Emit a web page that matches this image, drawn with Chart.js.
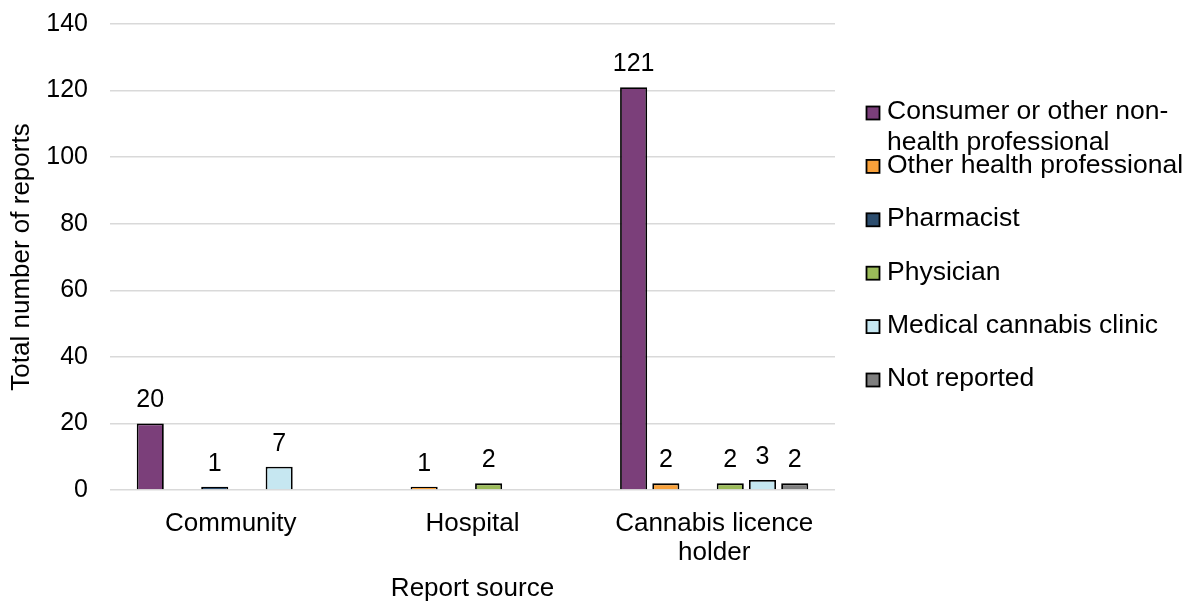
<!DOCTYPE html>
<html>
<head>
<meta charset="utf-8">
<title>Reports by source</title>
<script src="https://cdn.jsdelivr.net/npm/chart.js@4.4.0/dist/chart.umd.js"></script>
<style>
  html, body { margin: 0; padding: 0; background: #fff; }
  #wrap { width: 1185px; height: 601px; position: relative; }
</style>
</head>
<body>
<div id="wrap"><canvas id="chart"></canvas></div>
<script>
// data
const categories = ['Community', 'Hospital', ['Cannabis licence', 'holder']];
const seriesNames = [
  ['Consumer or other non-', 'health professional'],
  ['Other health professional'],
  ['Pharmacist'],
  ['Physician'],
  ['Medical cannabis clinic'],
  ['Not reported']
];
const consumer = [20, 0, 121];
const otherHealthPro = [0, 1, 2];
const pharmacist = [1, 0, 0];
const physician = [0, 2, 2];
const medicalClinic = [7, 0, 3];
const notReported = [0, 0, 2];
const yTicks = [0, 20, 40, 60, 80, 100, 120, 140];

const colors = ['#7b3f7a', '#f9a13a', '#2c4d6e', '#9bbb59', '#c6e7f1', '#7f7f7f'];
const allSeries = [consumer, otherHealthPro, pharmacist, physician, medicalClinic, notReported];

const FONT = 'Arial, "Liberation Sans", sans-serif';
Chart.defaults.font.family = FONT;
Chart.defaults.color = '#000';

// value labels above non-zero bars
const valueLabels = {
  id: 'valueLabels',
  afterDatasetsDraw(chart) {
    const ctx = chart.ctx;
    ctx.save();
    ctx.font = '25px ' + FONT;
    ctx.fillStyle = '#000';
    ctx.textAlign = 'center';
    ctx.textBaseline = 'alphabetic';
    chart.data.datasets.forEach((ds, i) => {
      chart.getDatasetMeta(i).data.forEach((bar, j) => {
        const v = ds.data[j];
        if (!v) return;
        ctx.fillText(String(v), bar.x, bar.y - 16);
      });
    });
    ctx.restore();
  }
};

// legend drawn at the right, like the original
const sideLegend = {
  id: 'sideLegend',
  afterDraw(chart) {
    const ctx = chart.ctx;
    ctx.save();
    ctx.font = '26.5px ' + FONT;
    ctx.textBaseline = 'middle';
    chart.data.datasets.forEach((ds, i) => {
      const cy = 113 + i * 53.4;
      ctx.fillStyle = ds.backgroundColor;
      ctx.fillRect(866.5, cy - 6.5, 13, 13);
      ctx.strokeStyle = '#000';
      ctx.lineWidth = 1.8;
      ctx.strokeRect(866.5, cy - 6.5, 13, 13);
      ctx.fillStyle = '#000';
      seriesNames[i].forEach((line, k) => {
        ctx.fillText(line, 887, cy - 1 + k * 31);
      });
    });
    ctx.restore();
  }
};

const datasets = allSeries.map((vals, i) => ({
  label: seriesNames[i].join(' '),
  data: vals,
  backgroundColor: colors[i],
  borderColor: '#000',
  borderWidth: c => (c.raw ? 1.8 : 0),
  borderSkipped: 'bottom',
  categoryPercentage: 0.8,
  barPercentage: 0.84
}));

new Chart(document.getElementById('chart'), {
  type: 'bar',
  data: { labels: categories, datasets },
  options: {
    responsive: true,
    maintainAspectRatio: false,
    animation: false,
    layout: { padding: { top: 24, right: 350, left: 0, bottom: 0 } },
    plugins: {
      legend: { display: false },
      tooltip: { enabled: false }
    },
    scales: {
      x: {
        grid: { display: false },
        border: { display: false },
        ticks: { font: { size: 26, lineHeight: 1.12 }, padding: 11, color: '#000' },
        title: { display: true, text: 'Report source', font: { size: 26, lineHeight: 0.92 }, color: '#000', padding: 0 },
        afterFit: s => { s.height = 111; s.paddingLeft = 0; s.paddingRight = 0; }
      },
      y: {
        min: 0,
        max: 140,
        afterBuildTicks: s => { s.ticks = yTicks.map(v => ({ value: v })); },
        grid: { color: '#d9d9d9', lineWidth: 1.5, drawTicks: false },
        border: { display: false },
        ticks: { font: { size: 25 }, padding: 22, color: '#000' },
        title: { display: true, text: 'Total number of reports', font: { size: 26 }, color: '#000', padding: { top: 6, bottom: 0 } },
        afterFit: s => { s.width = 110; s.paddingTop = 0; s.paddingBottom = 0; }
      }
    }
  },
  plugins: [valueLabels, sideLegend]
});
</script>
</body>
</html>
